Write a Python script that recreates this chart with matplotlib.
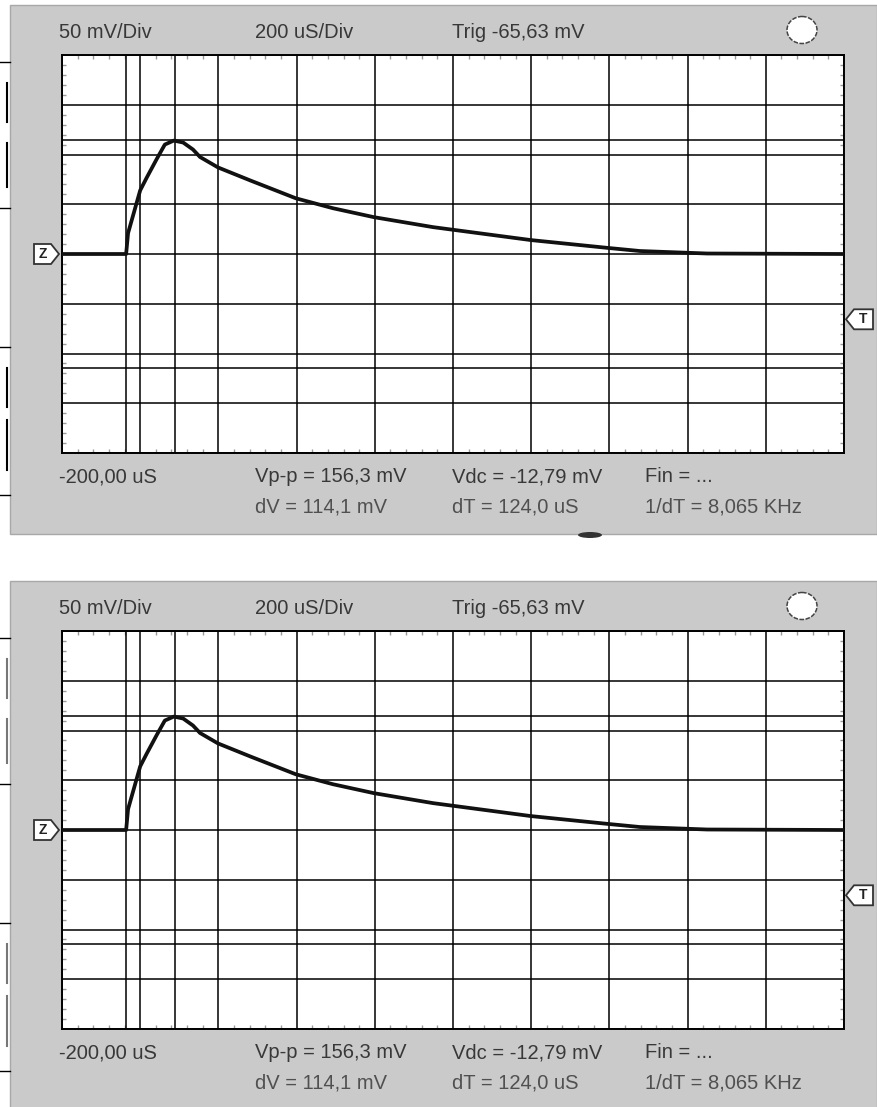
"""
Oscilloscope screenshots (two identical captures) - pulse response, 50 mV/Div, 200 uS/Div.
"""

import numpy as np
import matplotlib
matplotlib.use("Agg")
import matplotlib.pyplot as plt
from matplotlib.patches import Rectangle, Polygon, Ellipse

plt.rcParams["font.family"] = ["Liberation Sans", "DejaVu Sans"]

# ── data ───────────────────────────────────────────────────────────────────
time_us = [-200, -36, -31, 0, 17, 43, 63, 86, 110, 135, 153, 199, 281,
           398, 493, 598, 749, 999, 1199, 1278, 1450, 1800]
trace_mv = [0, 0, 21, 64, 77, 96, 110, 114, 112, 105, 97.5, 87, 74,
            56, 46, 37, 27, 14, 6, 3, 0.5, 0]

cursor_t_us = [-36, 88]
cursor_v_mv = [114.1, -115.0]
trig_mv = -65.63

header_labels = ["50 mV/Div", "200 uS/Div", "Trig -65,63 mV"]
footer_row1 = ["-200,00 uS", "Vp-p = 156,3 mV", "Vdc = -12,79 mV", "Fin = ..."]
footer_row2 = ["", "dV = 114,1 mV", "dT = 124,0 uS", "1/dT = 8,065 KHz"]

T_MIN, T_MAX, T_DIV = -200, 1800, 200
V_MIN, V_MAX, V_DIV = -200, 200, 50

# ── layout (pixels) ────────────────────────────────────────────────────────
W, H = 877, 1107
PANEL_OFFSETS = [0, 576]
PL, PR, PT, PB = 62, 844, 55, 453      # plot rectangle in first panel
GRAY = "#cacaca"
TXT = "#383838"
FS = 14.5

fig = plt.figure(figsize=(W / 100, H / 100), dpi=100)
fig.patch.set_facecolor("white")

bg = fig.add_axes([0, 0, 1, 1])
bg.set_xlim(0, W)
bg.set_ylim(H, 0)
bg.axis("off")


def v_to_px(v, off):
    return off + PT + (V_MAX - v) / (V_MAX - V_MIN) * (PB - PT)


for k, off in enumerate(PANEL_OFFSETS):
    # gray window
    bg.add_patch(Rectangle((10, off + 5), W - 10, 529, facecolor=GRAY,
                           edgecolor="#a8a8a8", lw=1.0, zorder=1))

    # header text
    for x, s in zip([59, 255, 452], header_labels):
        bg.text(x, off + 32, s, fontsize=FS, color=TXT, va="center", ha="left", zorder=3)
    bg.add_patch(Ellipse((802, off + 30), 30, 27, facecolor="white",
                         edgecolor="#444444", lw=1.1, ls=(0, (3, 1)), zorder=3))

    # footer text
    for x, s1, s2 in zip([59, 255, 452, 645], footer_row1, footer_row2):
        bg.text(x, off + 477, s1, fontsize=FS, color=TXT, va="center", ha="left", zorder=3)
        if s2:
            bg.text(x, off + 507, s2, fontsize=FS, color="#505050", va="center", ha="left", zorder=3)

    # Z (ground) marker
    yz = v_to_px(0, off)
    bg.add_patch(Polygon([[34, yz - 10], [51, yz - 10], [59, yz], [51, yz + 10], [34, yz + 10]],
                         closed=True, facecolor="white", edgecolor="#333333", lw=1.3, zorder=3))
    bg.text(42.5, yz, "Z", fontsize=10, fontweight="bold", ha="center", va="center",
            color="#222222", zorder=4)

    # T (trigger) marker
    yt = v_to_px(trig_mv, off)
    bg.add_patch(Polygon([[846, yt], [854, yt - 10], [873, yt - 10], [873, yt + 10], [854, yt + 10]],
                         closed=True, facecolor="white", edgecolor="#333333", lw=1.3, zorder=3))
    bg.text(863, yt, "T", fontsize=10, fontweight="bold", ha="center", va="center",
            color="#222222", zorder=4)

    # page fragments on the left edge
    frag = "black" if k == 0 else "#777777"
    for y in [62, 208, 347, 495]:
        bg.plot([0, 10], [off + y, off + y], color="black", lw=1.0, zorder=2)
    for y0, y1 in [(83, 122), (143, 187), (368, 407), (420, 470)]:
        bg.plot([7, 7], [off + y0, off + y1], color=frag, lw=1.5, zorder=2)

    # screen axes
    ax = fig.add_axes([PL / W, 1 - (off + PB) / H, (PR - PL) / W, (PB - PT) / H])
    ax.set_facecolor("white")
    ax.set_xlim(T_MIN, T_MAX)
    ax.set_ylim(V_MIN, V_MAX)
    ax.set_xticks(np.arange(T_MIN, T_MAX + 1, T_DIV))
    ax.set_yticks(np.arange(V_MIN, V_MAX + 1, V_DIV))
    ax.set_xticks(np.arange(T_MIN, T_MAX + 1, T_DIV / 5), minor=True)
    ax.set_yticks(np.arange(V_MIN, V_MAX + 1, V_DIV / 5), minor=True)
    ax.grid(True, which="major", color="black", lw=1.1)
    ax.tick_params(which="major", length=0, labelbottom=False, labelleft=False)
    ax.tick_params(which="minor", direction="in", length=3, width=1, color="#9a9a9a",
                   top=True, right=True, bottom=True, left=True)
    for sp in ax.spines.values():
        sp.set_color("black")
        sp.set_linewidth(1.4)

    for t in cursor_t_us:
        ax.axvline(t, color="black", lw=1.1)
    for v in cursor_v_mv:
        ax.axhline(v, color="black", lw=1.1)

    ax.plot(time_us, trace_mv, color="#111111", lw=2.7, solid_joinstyle="round", zorder=5)

# small tab under the first window
bg.add_patch(Ellipse((590, 535), 24, 6, facecolor="#333333", edgecolor="none", zorder=2))

fig.savefig("out.png", dpi=100)
